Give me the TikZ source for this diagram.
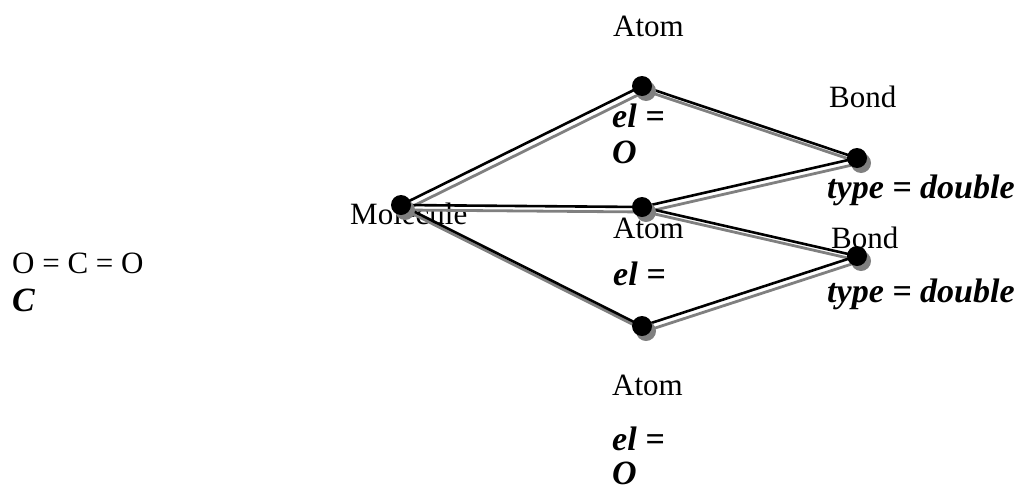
\documentclass[tikz,border=0pt]{standalone}
\usepackage{fontspec}
\setmainfont{Liberation Serif}
\begin{document}
\begin{tikzpicture}[x=1pt,y=-1pt,
  lbl/.style={anchor=base west,inner sep=0pt,font=\fontsize{31}{37}\selectfont},
  attr/.style={lbl,font=\fontsize{34}{40}\selectfont\bfseries\itshape},
  dot/.style={circle,fill=black,minimum size=20pt,inner sep=0pt},
  edgeblack/.style={black,line width=2.6pt},
  edgeshadow/.style={gray,line width=2.8pt}]
\useasboundingbox (0,0) rectangle (1017,493);
% labels (drawn below the graph)
\node[lbl] (molecule) at (350,224) {Molecule};
\node[lbl] (atom1) at (613,36) {Atom};
\node[attr] (el1) at (612,127) {el =};
\node[attr] (o1) at (612,163) {O};
\node[lbl] (atom2) at (613,238) {Atom};
\node[attr] (el2) at (613,285) {el =};
\node[lbl] (atom3) at (612,395) {Atom};
\node[attr] (el3) at (612,450) {el =};
\node[attr] (o3) at (612,484) {O};
\node[lbl] (bond1) at (829,107) {Bond};
\node[attr] (type1) at (827,198) {type = double};
\node[lbl] (bond2) at (831,248) {Bond};
\node[attr] (type2) at (827,302) {type = double};
\node[lbl] (formula) at (12,273) {O = C = O};
\node[attr] (c) at (12,311) {C};
% dot centers
\coordinate (M) at (401,205);
\coordinate (A1) at (642,86);
\coordinate (A2) at (642,207);
\coordinate (A3) at (642,326);
\coordinate (B1) at (857,158);
\coordinate (B2) at (857,256);
% shadows of edges
\foreach \a/\b in {M/A1,M/A2,M/A3,A1/B1,A2/B1,A2/B2,A3/B2}
  \draw[edgeshadow] ([shift={(4,5)}]\a) -- ([shift={(4,5)}]\b);
% edges
\foreach \a/\b in {M/A1,M/A2,M/A3,A1/B1,A2/B1,A2/B2,A3/B2}
  \draw[edgeblack] (\a) -- (\b);
% dot shadows and dots
\foreach \p in {M,A1,A2,A3,B1,B2}{
  \fill[gray] ([shift={(4,5)}]\p) circle (10);
  \node[dot] (d\p) at (\p) {};
}
\end{tikzpicture}
\end{document}
